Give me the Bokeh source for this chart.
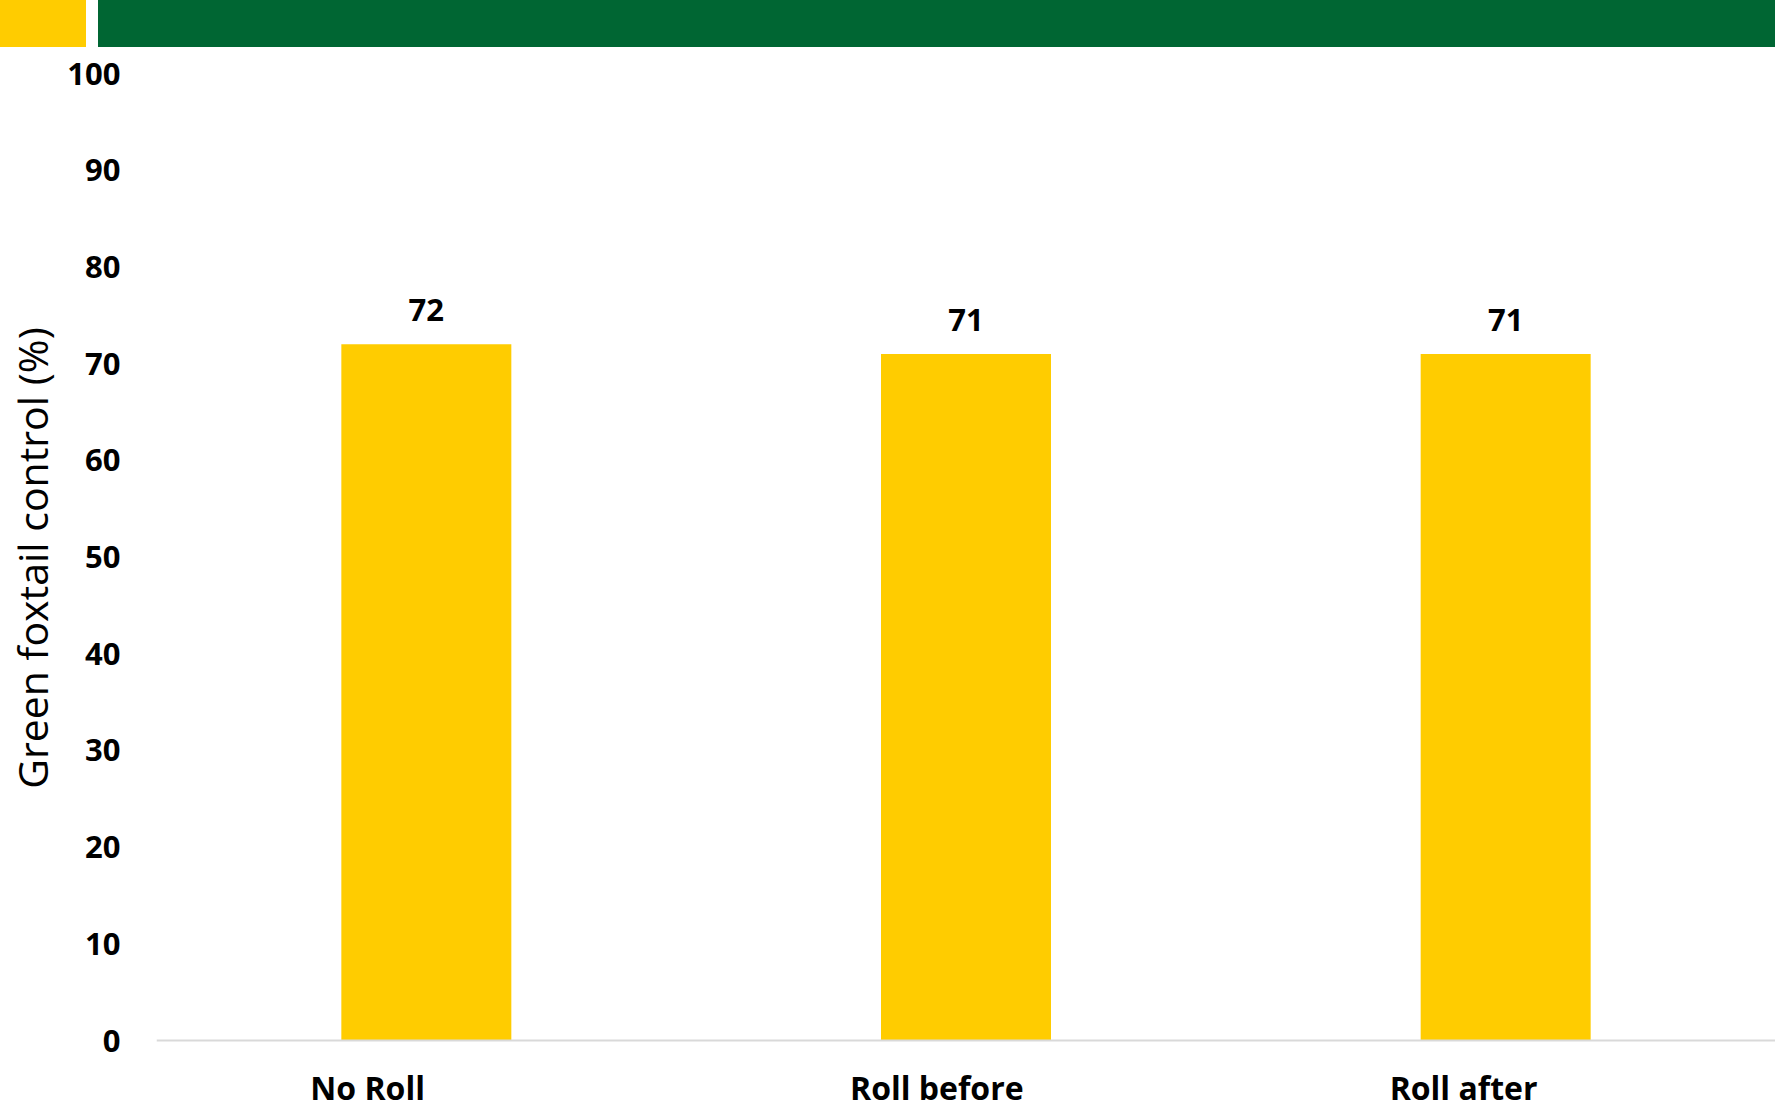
from bokeh.plotting import figure
from bokeh.models import (ColumnDataSource, LabelSet, Range1d, FixedTicker, FactorRange,
                          Div, Span)
from bokeh.layouts import column
from bokeh.core.properties import value
from bokeh.embed import file_html
from bokeh.resources import INLINE

# ---- data ----
categories = ["No Roll", "Roll before", "Roll after"]
control = [72, 71, 71]
value_labels = ["72", "71", "71"]
y_ticks = [0, 10, 20, 30, 40, 50, 60, 70, 80, 90, 100]
y_axis_title = "Green foxtail control (%)"

YELLOW = "#FFCC00"
GREEN = "#006633"
FONT = "Open Sans"

W = 1775
LEFT = 156

# ---- banner ----
banner = Div(width=W, height=47, margin=0,
             text=('<div style="display:flex;width:%dpx;height:47px;">'
                   '<div style="width:86px;height:47px;background:%s;"></div>'
                   '<div style="width:12px;height:47px;background:#ffffff;"></div>'
                   '<div style="flex:1;height:47px;background:%s;"></div>'
                   '</div>') % (W, YELLOW, GREEN))

# ---- chart ----
xr = FactorRange(*categories)
src = ColumnDataSource(dict(cat=categories, val=control, lab=value_labels))

p = figure(width=W, height=1019, x_range=xr, y_range=Range1d(-0.2, 100), title=None,
           output_backend="svg", toolbar_location=None,
           min_border_left=LEFT, min_border_right=0, min_border_top=26, min_border_bottom=24)
p.grid.visible = False
p.outline_line_color = None
p.xaxis.visible = False

p.vbar(x="cat", top="val", bottom=0, width=0.315, source=src, fill_color=YELLOW, line_color=None)
p.add_layout(Span(location=0, dimension="width", line_color="#d9d9d9", line_width=2))

# y axis
p.yaxis.ticker = FixedTicker(ticks=y_ticks)
p.yaxis.axis_line_color = None
p.yaxis.major_tick_line_color = None
p.yaxis.minor_tick_line_color = None
p.yaxis.major_tick_out = 0
p.yaxis.major_tick_in = 0
p.yaxis.major_label_standoff = 36
p.yaxis.major_label_text_font = FONT
p.yaxis.major_label_text_font_style = "bold"
p.yaxis.major_label_text_font_size = "31px"
p.yaxis.major_label_text_color = "black"
p.yaxis.axis_label = y_axis_title
p.yaxis.axis_label_text_font = FONT
p.yaxis.axis_label_text_font_style = "normal"
p.yaxis.axis_label_text_font_size = "41px"
p.yaxis.axis_label_text_color = "black"
p.yaxis.axis_label_standoff = 4

# value labels
vals = LabelSet(x="cat", y="val", text="lab", source=src, y_offset=34,
                text_align="center", text_baseline="middle",
                text_font=value(FONT), text_font_style="bold", text_font_size="31px",
                text_color="black")
p.add_layout(vals)

# ---- category label strip (frame aligned with the chart) ----
q = figure(width=W, height=39, x_range=xr, y_range=Range1d(0, 1), title=None,
           output_backend="svg", toolbar_location=None,
           min_border_left=LEFT, min_border_right=0, min_border_top=0, min_border_bottom=0)
q.axis.visible = False
q.grid.visible = False
q.outline_line_color = None
cat_src = ColumnDataSource(dict(cat=categories, y=[1] * len(categories)))
q.text(x="cat", y="y", text="cat", source=cat_src, x_offset=-116, y_offset=21,
       text_align="left", text_baseline="alphabetic",
       text_font=value(FONT), text_font_style="bold", text_font_size="32px",
       text_color="black")

layout = column(banner, p, q, spacing=0)

open("out.html", "w").write(file_html(layout, INLINE))
